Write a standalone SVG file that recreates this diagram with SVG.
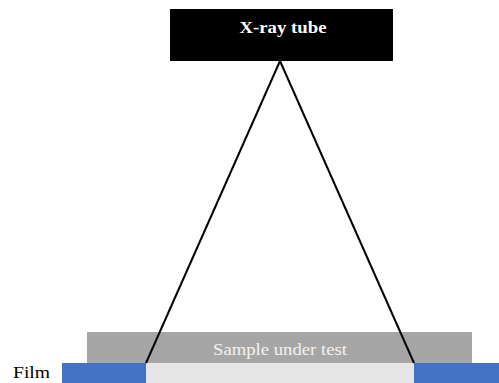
<svg xmlns="http://www.w3.org/2000/svg" width="499" height="383" viewBox="0 0 499 383">
<style>
.t{font-family:"Liberation Serif","Times New Roman",serif;font-size:17.5px;}
</style>
<rect width="499" height="383" fill="#fff"/>
<g id="sample">
<rect x="87" y="332" width="385" height="31" fill="#a6a6a6"/>
<text class="t" x="213" y="355" fill="#f2f2f2" textLength="134" lengthAdjust="spacingAndGlyphs">Sample under test</text>
</g>
<g id="film">
<rect x="62" y="363" width="84" height="20" fill="#4472c4"/>
<rect x="146" y="363" width="268" height="20" fill="#e7e6e6"/>
<rect x="414" y="363" width="85" height="20" fill="#4472c4"/>
<text class="t" x="13" y="378" fill="#000" textLength="37" lengthAdjust="spacingAndGlyphs">Film</text>
</g>
<g id="tube">
<rect x="170" y="9" width="223" height="52" fill="#000"/>
<text class="t" x="239.5" y="33.3" font-weight="bold" fill="#fff" textLength="87" lengthAdjust="spacingAndGlyphs">X-ray tube</text>
</g>
<g id="connectors" stroke="#000" stroke-width="2" fill="none">
<line x1="280" y1="61" x2="146" y2="363"/>
<line x1="280" y1="61" x2="414" y2="363"/>
</g>
</svg>
